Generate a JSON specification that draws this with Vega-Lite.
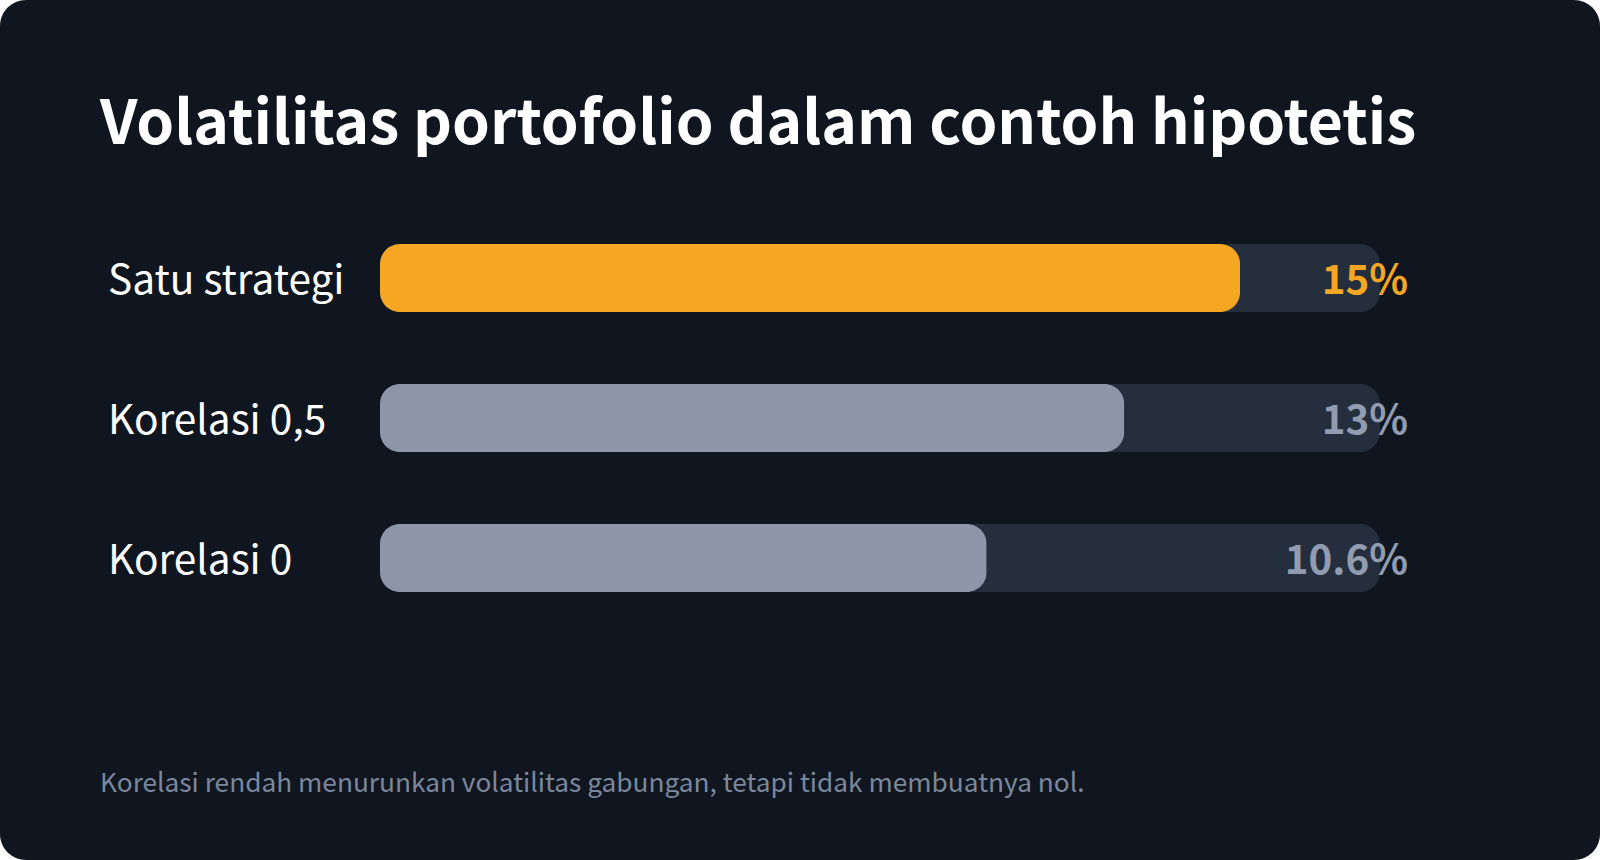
{
  "$schema": "https://vega.github.io/schema/vega-lite/v6.json",
  "width": 1600,
  "height": 860,
  "padding": 0,
  "autosize": "none",
  "background": "#ffffff",
  "config": {
    "view": {"fill": "#10161f", "stroke": null, "cornerRadius": 26},
    "font": "Noto Sans CJK SC"
  },
  "title": {
    "text": "Volatilitas portofolio dalam contoh hipotetis",
    "orient": "top",
    "anchor": "start",
    "frame": "group",
    "offset": -157,
    "dx": 100,
    "font": "Noto Sans CJK SC",
    "fontSize": 60.6,
    "fontWeight": 700,
    "color": "#ffffff"
  },
  "data": {
    "values": [
      {"label": "Satu strategi", "value": 15, "text": "15%", "track": 17.44, "kind": "utama"},
      {"label": "Korelasi 0,5", "value": 12.98, "text": "13%", "track": 17.44, "kind": "lain"},
      {"label": "Korelasi 0", "value": 10.58, "text": "10.6%", "track": 17.44, "kind": "lain"}
    ]
  },
  "encoding": {
    "y": {
      "field": "label",
      "type": "nominal",
      "sort": null,
      "scale": {"range": [244, 592], "paddingInner": 0.5143, "paddingOuter": 0},
      "axis": {
        "title": null,
        "domain": false,
        "ticks": false,
        "grid": false,
        "labelAlign": "left",
        "labelPadding": -107.5,
        "labelFontSize": 40.6,
        "labelFont": "Noto Sans CJK SC",
        "labelColor": "#ffffff",
        "labelBaseline": "middle",
        "labelOffset": 4,
        "labelLimit": 0
      }
    }
  },
  "layer": [
    {
      "mark": {"type": "bar", "cornerRadius": 20, "color": "#242e3c"},
      "encoding": {
        "x": {
          "field": "track",
          "type": "quantitative",
          "scale": {"domain": [0, 17.44], "range": [380, 1380], "nice": false},
          "axis": {
            "title": "Korelasi rendah menurunkan volatilitas gabungan, tetapi tidak membuatnya nol.",
            "domain": false,
            "ticks": false,
            "labels": false,
            "grid": false,
            "titleAnchor": "start",
            "titleAlign": "left",
            "titleBaseline": "alphabetic",
            "titleX": 99.5,
            "titleY": -69,
            "titleFont": "Noto Sans CJK SC",
            "titleFontSize": 26.25,
            "titleFontWeight": 400,
            "titleColor": "#7b879c"
          }
        }
      }
    },
    {
      "mark": {"type": "bar", "cornerRadius": 20},
      "encoding": {
        "x": {"field": "value", "type": "quantitative"},
        "color": {
          "field": "kind",
          "type": "nominal",
          "legend": null,
          "scale": {"domain": ["utama", "lain"], "range": ["#f5a623", "#8d95a8"]}
        }
      }
    },
    {
      "mark": {"type": "text", "align": "right", "baseline": "middle", "dx": 28, "dy": 4, "fontSize": 40.3, "fontWeight": 700},
      "encoding": {
        "x": {"field": "track", "type": "quantitative"},
        "text": {"field": "text", "type": "nominal"},
        "color": {
          "field": "kind",
          "type": "nominal",
          "legend": null,
          "scale": {"domain": ["utama", "lain"], "range": ["#f5a623", "#929cb0"]}
        }
      }
    }
  ],
  "resolve": {"scale": {"color": "independent"}}
}
